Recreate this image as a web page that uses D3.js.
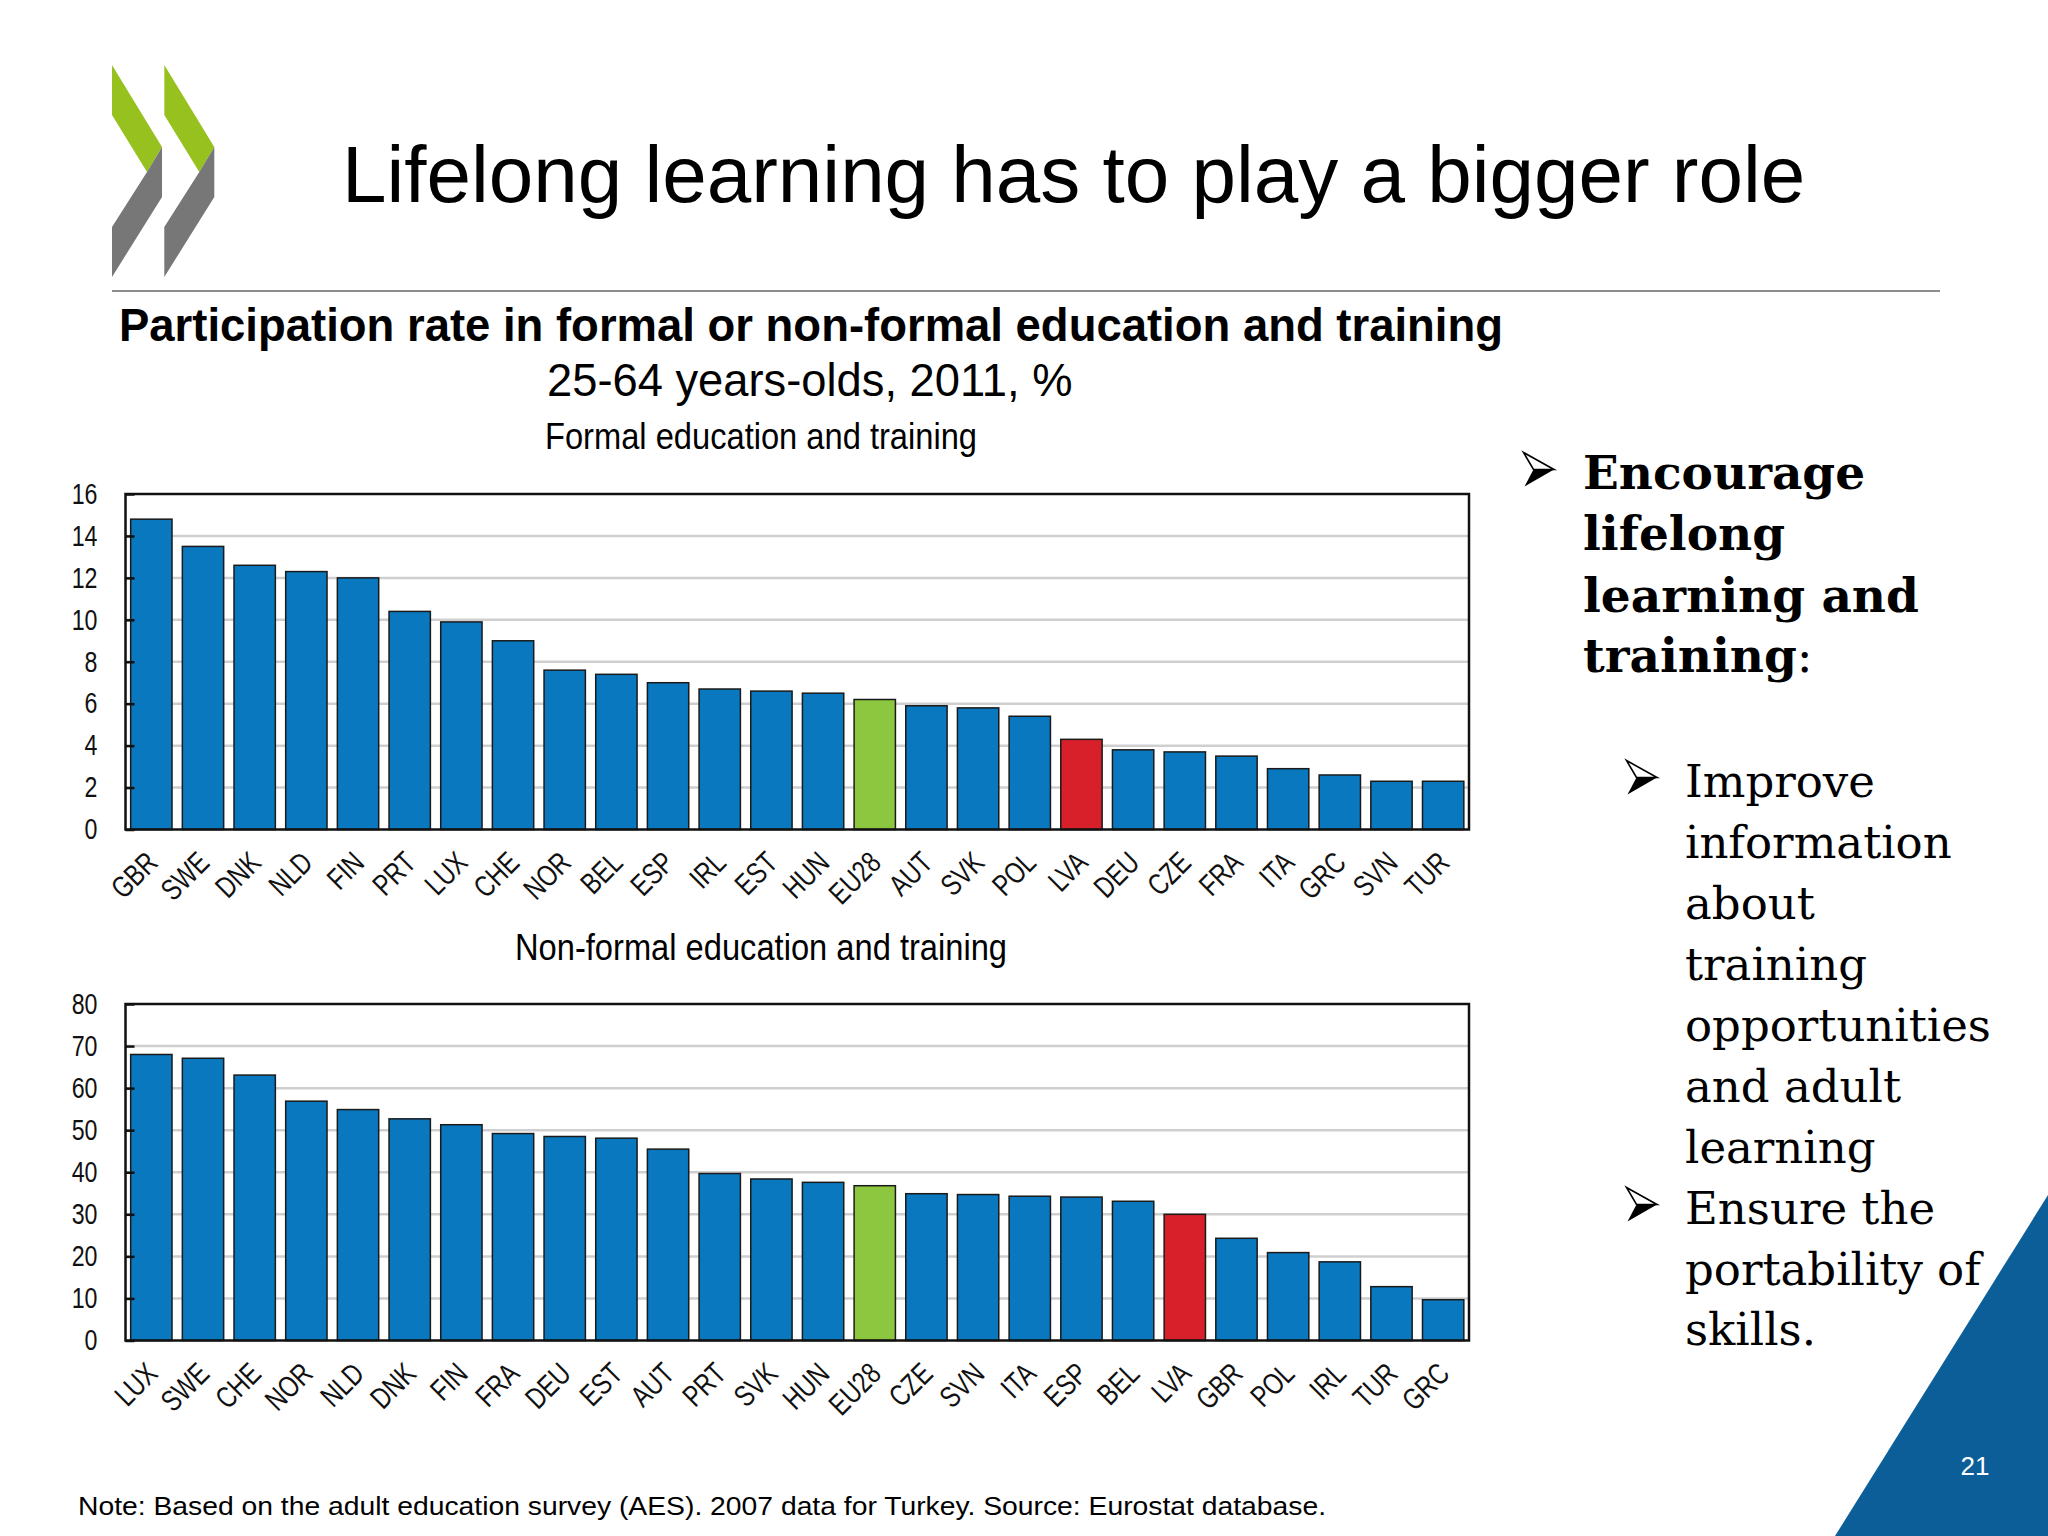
<!DOCTYPE html>
<html>
<head>
<meta charset="utf-8">
<script src="https://cdn.jsdelivr.net/npm/d3@7"></script>
<style>
  body { margin: 0; background: #fff; }
  .sans { font-family: "Liberation Sans", Arial, sans-serif; }
  .serif { font-family: "DejaVu Serif", serif; }
</style>
</head>
<body>
<svg id="slide" width="2048" height="1536"></svg>
<script>
// chart data
var formalCountries = ["GBR","SWE","DNK","NLD","FIN","PRT","LUX","CHE","NOR","BEL","ESP","IRL","EST","HUN","EU28","AUT","SVK","POL","LVA","DEU","CZE","FRA","ITA","GRC","SVN","TUR"];
var formalValues = [14.8,13.5,12.6,12.3,12.0,10.4,9.9,9.0,7.6,7.4,7.0,6.7,6.6,6.5,6.2,5.9,5.8,5.4,4.3,3.8,3.7,3.5,2.9,2.6,2.3,2.3];
var formalTicks = [0,2,4,6,8,10,12,14,16];

var nonFormalCountries = ["LUX","SWE","CHE","NOR","NLD","DNK","FIN","FRA","DEU","EST","AUT","PRT","SVK","HUN","EU28","CZE","SVN","ITA","ESP","BEL","LVA","GBR","POL","IRL","TUR","GRC"];
var nonFormalValues = [68.0,67.1,63.1,56.9,54.9,52.7,51.3,49.2,48.5,48.1,45.5,39.7,38.4,37.6,36.8,34.9,34.7,34.3,34.1,33.1,30.0,24.3,20.9,18.7,12.8,9.7];
var nonFormalTicks = [0,10,20,30,40,50,60,70,80];

var highlight = {"EU28": "#8dc63f", "LVA": "#d7202a"};
var barBlue = "#0a78be";

var svg = d3.select("#slide");

// squeeze plain Arial into an "Arial Narrow" look
function narrow(sel, k){
  sel.attr("font-family", "Liberation Sans, Arial, sans-serif")
    .each(function(){
      var w = this.getComputedTextLength();
      d3.select(this).attr("textLength", w*k).attr("lengthAdjust", "spacingAndGlyphs");
    });
}

// OECD logo
var green = "#97c11f", grey = "#777777";
[0, 52.3].forEach(function(off){
  var g = svg.append("g").attr("transform", "translate(" + off + ",0)");
  g.append("polygon").attr("points", "112,65 162,147 147,172 112,115").attr("fill", green);
  g.append("polygon").attr("points", "162,147 162,197 112,277 112,227 147,172").attr("fill", grey);
});

svg.append("text").attr("class", "sans")
  .attr("x", 342).attr("y", 202)
  .attr("font-size", 80)
  .text("Lifelong learning has to play a bigger role");

svg.append("line")
  .attr("x1", 112).attr("x2", 1940).attr("y1", 291).attr("y2", 291)
  .attr("stroke", "#8c8c8c").attr("stroke-width", 2);

svg.append("text").attr("class", "sans")
  .attr("x", 119).attr("y", 341)
  .attr("font-size", 45.5).attr("font-weight", "bold")
  .attr("textLength", 1384).attr("lengthAdjust", "spacingAndGlyphs")
  .text("Participation rate in formal or non-formal education and training");

svg.append("text").attr("class", "sans")
  .attr("x", 547).attr("y", 396)
  .attr("font-size", 45.3)
  .text("25-64 years-olds, 2011, %");

function makeBars(countries, values, ticks, top, bottom, title, titleY, titleW){
  var left = 125.5, right = 1469;

  var x = d3.scaleBand().domain(countries).range([left, right])
    .paddingInner(0.2).paddingOuter(0.1);
  var y = d3.scaleLinear().domain([0, ticks[ticks.length-1]]).range([bottom, top]);

  svg.append("text").attr("class", "sans")
    .attr("x", 761).attr("y", titleY)
    .attr("text-anchor", "middle")
    .attr("font-size", 36)
    .attr("textLength", titleW).attr("lengthAdjust", "spacingAndGlyphs")
    .text(title);

  // grid
  svg.append("g").selectAll("line")
    .data(ticks.slice(1, -1))
    .enter().append("line")
      .attr("x1", left).attr("x2", right)
      .attr("y1", function(d){ return y(d); })
      .attr("y2", function(d){ return y(d); })
      .attr("stroke", "#cfcfcf").attr("stroke-width", 2.5);

  svg.append("g").selectAll("rect")
    .data(d3.zip(countries, values))
    .enter().append("rect")
      .attr("x", function(d){ return x(d[0]); })
      .attr("y", function(d){ return y(d[1]); })
      .attr("width", x.bandwidth())
      .attr("height", function(d){ return y(0) - y(d[1]); })
      .attr("fill", function(d){ return highlight[d[0]] || barBlue; })
      .attr("stroke", "#1a1a1a").attr("stroke-width", 1.5);

  // frame
  svg.append("rect")
    .attr("x", left).attr("y", top)
    .attr("width", right - left).attr("height", bottom - top)
    .attr("fill", "none").attr("stroke", "#111").attr("stroke-width", 2.5);

  var yAxis = d3.axisLeft(y).tickValues(ticks).tickSize(-9).tickPadding(28);
  var ya = svg.append("g")
    .attr("transform", "translate(" + left + ",0)")
    .call(yAxis);
  ya.select(".domain").remove();
  ya.selectAll(".tick line").attr("stroke", "#111").attr("stroke-width", 2.5);
  ya.selectAll(".tick text").attr("font-size", 29).attr("fill", "#111").call(narrow, 0.8);

  svg.append("g").selectAll("text")
    .data(countries)
    .enter().append("text")
      .attr("transform", function(d){
        return "translate(" + (x(d) + x.bandwidth()/2 + 8) + "," + (bottom + 35) + ") rotate(-45)";
      })
      .attr("text-anchor", "end")
      .attr("font-size", 30)
      .attr("fill", "#111")
      .text(function(d){ return d; })
      .call(narrow, 0.78);
}

makeBars(formalCountries, formalValues, formalTicks, 494, 829.5,
  "Formal education and training", 449, 432);
makeBars(nonFormalCountries, nonFormalValues, nonFormalTicks, 1004, 1340.5,
  "Non-formal education and training", 960, 492);

// right hand bullet text
var mainLines = ["Encourage", "lifelong", "learning and", "training"];
var subLines = ["Improve", "information", "about", "training", "opportunities", "and adult", "learning", "Ensure the", "portability of", "skills."];
var mainBase = [489, 550, 612, 672];
var subBase = [797, 858, 919, 980, 1041, 1102, 1163, 1224, 1285, 1345];

var mt = svg.append("g").attr("class", "serif");
mainLines.forEach(function(s, i){
  var t = mt.append("text").attr("x", 1583).attr("y", mainBase[i])
    .attr("font-size", 47).attr("font-weight", "bold").text(s);
  if (i == mainLines.length - 1) t.append("tspan").attr("font-weight", "normal").text(":");
});
subLines.forEach(function(s, i){
  mt.append("text").attr("x", 1685).attr("y", subBase[i])
    .attr("font-size", 45).text(s);
});

// arrowhead bullets (top half outlined, bottom half filled)
var bullets = [[1523, mainBase[0]], [1626, subBase[0]], [1626, subBase[7]]];
var bg = svg.append("g").selectAll("g")
  .data(bullets)
  .enter().append("g")
    .attr("transform", function(d){ return "translate(" + d[0] + "," + (d[1] - 37) + ")"; });
bg.append("path").attr("d", "M0.5,0.5 L31,17.5 L10.5,17.5 Z")
  .attr("fill", "#fff").attr("stroke", "#000").attr("stroke-width", 1.6).attr("stroke-linejoin", "miter");
bg.append("path").attr("d", "M10.5,17.5 L31,17.5 L1.5,34.5 Z").attr("fill", "#000");

// corner triangle and page number
svg.append("polygon").attr("points", "2048,1195 2048,1536 1835,1536").attr("fill", "#0b5e98");
svg.append("text").attr("class", "sans")
  .attr("x", 1975).attr("y", 1475)
  .attr("text-anchor", "middle").attr("font-size", 26).attr("fill", "#fff")
  .text("21");

svg.append("text").attr("class", "sans")
  .attr("x", 78).attr("y", 1515)
  .attr("font-size", 26)
  .attr("textLength", 1248).attr("lengthAdjust", "spacingAndGlyphs")
  .text("Note: Based on the adult education survey (AES). 2007 data for Turkey. Source: Eurostat database.");
</script>
</body>
</html>
